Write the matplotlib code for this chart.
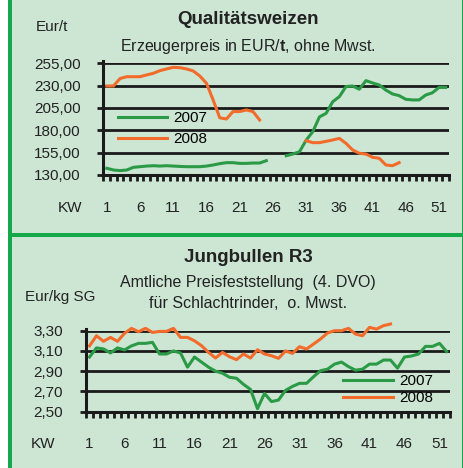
#!/usr/bin/env python

import numpy as np
from matplotlib import pyplot as plt
from matplotlib.patches import Rectangle

plt.rcParams['font.family'] = ['Liberation Sans', 'DejaVu Sans']
plt.rcParams['mathtext.fontset'] = 'custom'
plt.rcParams['mathtext.bf'] = 'Liberation Sans:bold'

nan = np.nan
weeks = np.arange(1, 53)
week_labels = [1, 6, 11, 16, 21, 26, 31, 36, 41, 46, 51]

# Qualitaetsweizen, EUR/t
wheat_2007 = [137.5, 135.6, 134.9, 135.6, 138.6, 139.3, 140, 140.4, 140, 140.4,
              140, 139.6, 139.3, 139.3, 139.3, 140, 141.2, 142.7, 143.8, 143.8,
              143, 143, 143.4, 143.4, 146, nan, nan,
              151.6, 153.5, 156, 169, 178.5, 195, 199, 212, 217.7, 229,
              229.6, 226, 235.6, 233, 230.7, 225, 220.7, 218.8, 214.7, 214,
              214, 219.5, 222, 228, 228]
wheat_2008 = [229.6, 229.6, 238, 240, 240, 240, 242, 243.8, 246.8, 248.7,
              250.5, 250.1, 248.7, 246.4, 240.8, 232.6, 214, 194, 192.7, 201,
              201, 202.8, 201, 191.6, nan, nan, nan, nan, nan, nan,
              168.4, 166.2, 166.2, 167.7, 169.2, 171, 165.4, 158, 154.3, 153.5,
              149.8, 148.7, 141.2, 140.4, 143.8, nan, nan, nan, nan, nan, nan, nan]
wheat_ticks = [130, 155, 180, 205, 230, 255]

# Jungbullen R3, EUR/kg SG
bull_2007 = [3.04, 3.13, 3.12, 3.08, 3.13, 3.11, 3.15, 3.175, 3.175, 3.185,
             3.07, 3.07, 3.10, 3.08, 2.94, 3.04, 2.99, 2.94, 2.90, 2.88,
             2.84, 2.83, 2.77, 2.72, 2.53, 2.68, 2.60, 2.615, 2.71, 2.75,
             2.78, 2.78, 2.845, 2.905, 2.92, 2.97, 2.99, 2.945, 2.91, 2.92,
             2.97, 2.97, 3.01, 3.01, 2.93, 3.04, 3.05, 3.07, 3.145, 3.145,
             3.175, 3.095]
bull_2008 = [3.15, 3.25, 3.195, 3.234, 3.195, 3.274, 3.323, 3.29, 3.323, 3.283,
             3.293, 3.293, 3.323, 3.234, 3.234, 3.20, 3.152, 3.086, 3.03, 3.086,
             3.043, 3.014, 3.07, 3.03, 3.112, 3.07, 3.053, 3.027, 3.10, 3.076,
             3.142, 3.119, 3.168, 3.218, 3.277, 3.30, 3.30, 3.323, 3.267, 3.25,
             3.333, 3.316, 3.35, 3.366, nan, nan, nan, nan, nan, nan, nan, nan]
bull_ticks = [2.50, 2.70, 2.90, 3.10, 3.30]

BG = '#cde6d3'
FRAME = '#13a84a'
C07 = '#2a9a46'
C08 = '#f26b2b'
W, H = 464, 468


def px(x, y):
    return x / W, 1 - y / H


def setupAxes(ax, ticks, fmt, lab_pad):
    ax.set_facecolor('none')
    ax.set_xlim(0.5, 52.5)
    ax.set_ylim(ticks[0], ticks[-1])
    for s in ['top', 'right']:
        ax.spines[s].set_visible(False)
    for s in ['left', 'bottom']:
        ax.spines[s].set_linewidth(2.2)
        ax.spines[s].set_color('#1a1a1a')
    ax.set_yticks(ticks)
    ax.set_yticklabels([fmt(t) for t in ticks], fontsize=11, color='#222222')
    ax.tick_params(axis='y', length=4.5, width=2.0, pad=12, color='#1a1a1a')
    ax.grid(axis='y', color='#1a1a1a', linewidth=2.0)
    ax.set_axisbelow(True)
    # category boundaries get tick marks, labels sit on week centres
    ax.set_xticks(np.arange(0.5, 53, 1))
    ax.set_xticklabels([])
    ax.tick_params(axis='x', which='major', length=4, width=2.0, color='#1a1a1a')
    ax.set_xticks(week_labels, minor=True)
    ax.set_xticklabels([str(w) for w in week_labels], minor=True,
                       fontsize=11, color='#222222')
    ax.tick_params(axis='x', which='minor', length=0, pad=lab_pad)
    ax.spines['left'].set_bounds(ticks[0], ticks[-1] + (ticks[-1] - ticks[0]) * 0.02)


def comma(v, nd):
    return f'{v:.{nd}f}'.replace('.', ',')


def main():
    fig = plt.figure(figsize=(W / 100, H / 100), dpi=100, facecolor='white')
    # panel background and green frame
    fig.add_artist(Rectangle(px(10, H), (W - 10) / W, 1, transform=fig.transFigure,
                             facecolor=BG, edgecolor='none', zorder=-10))
    fig.add_artist(Rectangle(px(8.3, H), 3.4 / W, 1, transform=fig.transFigure,
                             facecolor=FRAME, edgecolor='none', zorder=-5))
    fig.add_artist(Rectangle(px(8.3, 237.3), 1, 4 / H, transform=fig.transFigure,
                             facecolor=FRAME, edgecolor='none', zorder=-5))
    fig.add_artist(Rectangle(px(462.5, H), 1.5 / W, 1, transform=fig.transFigure,
                             facecolor=FRAME, edgecolor='none', zorder=-5))

    # top panel
    l, b = px(103.5, 175)
    ax0 = fig.add_axes([l, b, (449 - 103.5) / W, (175 - 63.3) / H])
    setupAxes(ax0, wheat_ticks, lambda v: comma(v, 2), 19)
    ax0.plot(weeks, wheat_2007, color=C07, lw=2.2, label='2007', clip_on=False)
    ax0.plot(weeks, wheat_2008, color=C08, lw=2.2, label='2008', clip_on=False)
    ax0.legend(loc='upper left', bbox_to_anchor=px(118, 111.5), bbox_transform=fig.transFigure,
               frameon=False, fontsize=11, handlelength=3.2, handletextpad=0.4,
               labelspacing=0.45, borderpad=0, borderaxespad=0)
    fig.text(*px(248, 20), 'Qualitätsweizen', ha='center', va='center',
             fontsize=13.5, fontweight='bold', color='#222222')
    fig.text(*px(248, 47), r'Erzeugerpreis in EUR/$\mathbf{t}$, ohne Mwst.',
             ha='center', va='center', fontsize=11.5, color='#222222')
    fig.text(*px(52, 27), 'Eur/t', ha='center', va='center', fontsize=11, color='#222222')
    fig.text(*px(70, 208), 'KW', ha='center', va='center', fontsize=11, color='#222222')

    # bottom panel
    l, b = px(86, 411.7)
    ax1 = fig.add_axes([l, b, (450 - 86) / W, (411.7 - 330.7) / H])
    setupAxes(ax1, bull_ticks, lambda v: comma(v, 2), 18)
    ax1.plot(weeks, bull_2007, color=C07, lw=2.2, label='2007', clip_on=False)
    ax1.plot(weeks, bull_2008, color=C08, lw=2.2, label='2008', clip_on=False)
    ax1.legend(loc='upper left', bbox_to_anchor=px(343, 374), bbox_transform=fig.transFigure,
               frameon=False, fontsize=11, handlelength=3.3, handletextpad=0.4,
               labelspacing=0.2, borderpad=0, borderaxespad=0)
    fig.text(*px(248, 257), 'Jungbullen R3', ha='center', va='center',
             fontsize=13.5, fontweight='bold', color='#222222')
    fig.text(*px(248, 282), 'Amtliche Preisfeststellung  (4. DVO)',
             ha='center', va='center', fontsize=11.5, color='#222222')
    fig.text(*px(248, 304), 'für Schlachtrinder,  o. Mwst.',
             ha='center', va='center', fontsize=11.5, color='#222222')
    fig.text(*px(60, 297), 'Eur/kg SG', ha='center', va='center', fontsize=11, color='#222222')
    fig.text(*px(43, 444), 'KW', ha='center', va='center', fontsize=11, color='#222222')

    fig.savefig('out.png', dpi=100, facecolor='white')


if __name__ == '__main__':
    main()
